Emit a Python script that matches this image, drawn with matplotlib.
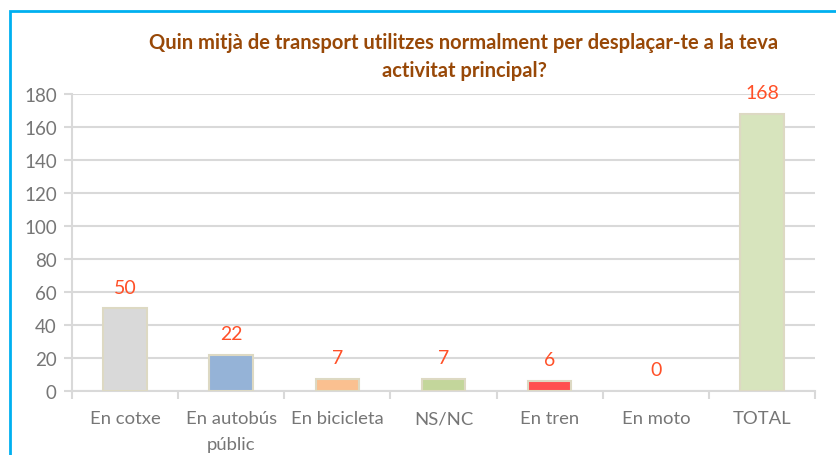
import matplotlib
matplotlib.use("Agg")
import matplotlib.pyplot as plt
from matplotlib.patches import Rectangle

categories = ["En cotxe", "En autobús\npúblic", "En bicicleta", "NS/NC", "En tren", "En moto", "TOTAL"]
values = [50, 22, 7, 7, 6, 0, 168]
bar_colors = ["#d9d9d9", "#95b3d7", "#fac090", "#c3d69b", "#ff4f4f", "#d9d9d9", "#d7e4bd"]
y_ticks = [0, 20, 40, 60, 80, 100, 120, 140, 160, 180]
title = "Quin mitjà de transport utilitzes normalment per desplaçar-te a la teva\nactivitat principal?"

plt.rcParams['font.family'] = ['Lato', 'DejaVu Sans']

fig = plt.figure(figsize=(8.36, 4.56), dpi=100)
ax = fig.add_axes([0.0861, 0.1404, 0.975 - 0.0861, 0.7917 - 0.1404])

grid_c = "#d9d9d9"
text_c = "#767676"

x = list(range(len(categories)))
edge_widths = [1.5 if v > 0 else 0 for v in values]
ax.bar(x, values, width=0.41, color=bar_colors, edgecolor="#ddd9c3",
       linewidth=edge_widths, zorder=3)

for xi, v in zip(x, values):
    ax.annotate(str(v), (xi, v), xytext=(0, 11.5), textcoords="offset points",
                ha="center", va="baseline", fontsize=14, color="#ff5028", zorder=4)

ax.set_xlim(-0.5, len(categories) - 0.5)
ax.set_ylim(0, 180)
ax.set_yticks(y_ticks)
ax.set_yticklabels([str(t) for t in y_ticks], fontsize=13.5, color=text_c)
ax.yaxis.grid(True, color=grid_c, linewidth=1.5, zorder=0)
ax.set_axisbelow(True)

ax.set_xticks([i - 0.5 for i in range(len(categories) + 1)], minor=False)
ax.set_xticklabels([])
ax.set_xticks(x, minor=True)
ax.set_xticklabels(categories, minor=True, fontsize=13.3, color=text_c, linespacing=1.75)
ax.tick_params(axis="x", which="major", length=6, width=1.5, color=grid_c, direction="out")
ax.tick_params(axis="x", which="minor", length=0, pad=14)
ax.tick_params(axis="y", length=6, width=1.5, color=grid_c, pad=5)

for s in ["top", "right"]:
    ax.spines[s].set_visible(False)
for s in ["left", "bottom"]:
    ax.spines[s].set_color(grid_c)
    ax.spines[s].set_linewidth(1.5)

fig.text(464 / 836, 1 - 57 / 456, title, ha="center", va="center", fontsize=14.5,
         fontweight="bold", color="#984807", linespacing=1.45)

# outer frame of the chart area
fig.patches.append(Rectangle((10 / 836, -0.1), 1.2, 1 - 12 / 456 + 0.1,
                             transform=fig.transFigure, fill=False,
                             edgecolor="#00b0f0", linewidth=2))

fig.savefig("out.png", dpi=100)
